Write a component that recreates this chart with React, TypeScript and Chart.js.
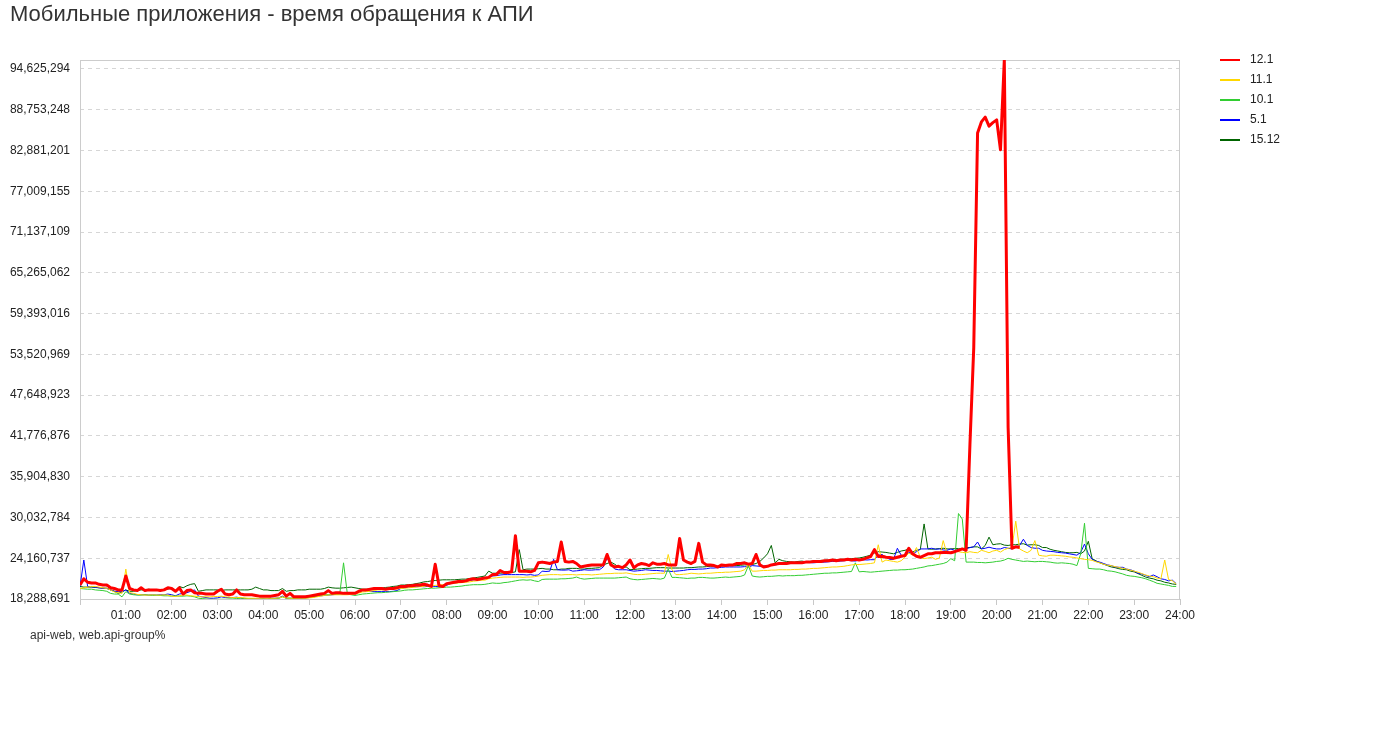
import React, { useEffect, useRef } from 'react';
import { Chart, registerables } from 'chart.js';

Chart.register(...registerables);

const TITLE = 'Мобильные приложения - время обращения к АПИ';
const SUBTITLE = 'api-web, web.api-group%';
const FONT = "'Liberation Sans', Arial, sans-serif";

// sampling step of the series, minutes (series start at 00:00)
const STEP_MIN = 5;

const X_TICK_LABELS = ['', '01:00', '02:00', '03:00', '04:00', '05:00', '06:00', '07:00', '08:00', '09:00', '10:00', '11:00', '12:00',
  '13:00', '14:00', '15:00', '16:00', '17:00', '18:00', '19:00', '20:00', '21:00', '22:00', '23:00', '24:00'];

const Y_TICKS = [18288691, 24160737, 30032784, 35904830, 41776876, 47648923, 53520969, 59393016,
  65265062, 71137109, 77009155, 82881201, 88753248, 94625294];
const Y_MIN = 18288691;
const Y_MAX = 95920000;

// values in millions
const S_12_1 = [
  20.3, 21.2, 20.7, 20.6, 20.6, 20.4, 20.3, 20.3, 19.9, 19.8, 19.6, 19.6,
  21.6, 19.8, 19.6, 19.5, 19.9, 19.5, 19.6, 19.6, 19.6, 19.5, 19.6, 19.9,
  19.8, 19.4, 19.9, 19.0, 19.5, 19.6, 19.2, 19.1, 19.1, 19.0, 19.0, 19.0,
  19.4, 19.7, 19.0, 18.9, 19.0, 19.6, 19.0, 18.9, 18.9, 18.9, 18.8, 18.7,
  18.7, 18.7, 18.7, 18.8, 18.9, 19.4, 18.7, 19.1, 18.6, 18.6, 18.6, 18.6,
  18.7, 18.8, 18.9, 19.0, 19.1, 19.5, 19.1, 19.2, 19.2, 19.1, 19.1, 19.1,
  19.1, 19.4, 19.6, 19.6, 19.7, 19.8, 19.8, 19.8, 19.7, 19.8, 19.8, 19.9,
  20.1, 20.1, 20.2, 20.2, 20.3, 20.3, 20.4, 20.3, 20.1, 23.3, 20.2, 20.1,
  20.5, 20.6, 20.7, 20.8, 20.8, 20.9, 21.1, 21.2, 21.1, 21.2, 21.3, 21.4,
  21.8, 21.8, 22.4, 22.1, 22.1, 22.2, 27.4, 22.3, 22.3, 22.3, 22.2, 22.4,
  23.5, 23.6, 23.5, 23.4, 23.6, 23.7, 26.5, 23.7, 23.6, 23.7, 23.4, 22.9,
  23.0, 23.1, 23.2, 23.2, 23.2, 23.2, 24.7, 23.2, 22.9, 23.0, 22.8, 23.2,
  23.9, 22.8, 23.2, 23.4, 23.3, 23.1, 23.5, 23.3, 23.3, 23.4, 23.2, 23.2,
  23.2, 27.0, 23.9, 23.6, 23.4, 23.7, 26.3, 23.6, 23.2, 23.2, 23.1, 22.9,
  23.2, 23.1, 23.2, 23.2, 23.4, 23.4, 23.5, 23.3, 23.4, 24.7, 23.2, 22.9,
  23.0, 23.2, 23.3, 23.4, 23.4, 23.4, 23.5, 23.5, 23.5, 23.5, 23.6, 23.6,
  23.7, 23.7, 23.7, 23.8, 23.8, 23.9, 23.8, 23.9, 23.9, 24.0, 23.9, 24.0,
  23.9, 24.0, 24.2, 24.4, 25.4, 24.4, 24.45, 24.3, 24.26, 24.16, 24.3, 24.45,
  24.55, 25.6, 24.8, 24.45, 24.3, 24.55, 24.8, 24.8, 24.95, 24.95, 25.0, 25.0,
  24.95, 25.1, 25.3, 25.5, 25.3, 40.5, 54.5, 85.4, 87.0, 87.7, 86.4, 86.9,
  87.3, 83.0, 95.92, 43.0, 25.6, 25.8, 25.7,
];

const S_11_1 = [
  19.8, 19.9, 20.0, 20.1, 20.1, 20.0, 19.9, 19.8, 19.6, 19.3, 19.2, 19.1,
  22.6, 19.2, 19.1, 18.95, 18.9, 18.85, 18.85, 18.9, 18.85, 18.85, 18.9, 18.85,
  18.7, 18.65, 18.75, 18.9, 18.85, 18.75, 18.7, 18.65, 18.6, 18.6, 18.6, 18.65,
  18.65, 18.7, 18.6, 18.55, 18.5, 18.5, 18.5, 18.45, 18.4, 18.4, 18.4, 18.4,
  18.4, 18.4, 18.4, 18.4, 18.45, 18.6, 18.45, 18.4, 18.4, 18.4, 18.4, 18.4,
  18.45, 18.5, 18.6, 18.7, 18.8, 18.85, 18.9, 18.9, 18.9, 18.9, 18.9, 18.95,
  19.05, 19.15, 19.3, 19.35, 19.4, 19.5, 19.6, 19.6, 19.65, 19.7, 19.7, 19.75,
  19.8, 19.85, 19.9, 19.95, 20.0, 20.05, 20.1, 20.2, 20.2, 20.25, 20.3, 20.35,
  20.4, 20.5, 20.55, 20.6, 20.65, 20.7, 20.75, 20.85, 20.9, 21.0, 21.0, 21.2,
  21.3, 21.35, 21.4, 21.45, 21.45, 21.45, 21.45, 21.45, 21.4, 21.45, 21.45, 21.5,
  21.6, 21.7, 21.75, 21.8, 21.8, 21.8, 21.75, 21.8, 21.8, 21.8, 21.75, 21.8,
  21.8, 21.8, 21.75, 21.8, 21.85, 21.9, 21.95, 21.95, 22.0, 22.0, 22.0, 22.05,
  21.95, 21.85, 21.8, 21.8, 21.85, 21.9, 21.95, 22.0, 22.0, 22.0, 24.7, 22.5,
  21.8, 21.8, 21.85, 21.9, 22.0, 21.95, 21.9, 21.95, 22.0, 22.0, 22.05, 22.1,
  22.1, 22.15, 22.15, 22.2, 22.25, 22.3, 22.5, 23.25, 22.3, 22.3, 22.35, 22.4,
  22.4, 22.45, 22.45, 22.5, 22.5, 22.5, 22.5, 22.55, 22.55, 22.6, 22.6, 22.65,
  22.7, 22.7, 22.75, 22.8, 22.85, 22.9, 22.9, 22.95, 23.0, 23.1, 23.2, 23.25,
  23.25, 23.3, 23.35, 23.4, 23.5, 26.1, 23.6, 23.9, 23.8, 23.7, 23.6, 23.8,
  24.3, 24.9, 24.6, 25.7, 24.3, 24.1, 24.2, 24.3, 24.0, 24.2, 26.7, 24.8,
  25.0, 25.2, 25.1, 25.0, 24.95, 25.1, 25.0, 24.95, 25.3, 25.15, 24.95, 25.2,
  25.3, 25.05, 25.4, 25.6, 25.7, 29.5, 25.5, 25.2, 24.95, 25.3, 26.7, 24.6,
  24.5, 24.45, 24.6, 24.6, 24.55, 24.5, 24.45, 24.35, 24.3, 24.2, 24.1, 24.0,
  23.95, 23.85, 23.65, 23.5, 23.3, 23.15, 23.1, 22.95, 22.85, 22.7, 22.6, 22.45,
  22.3, 22.15, 21.95, 21.75, 21.6, 21.5, 21.3, 21.2, 23.9, 21.1, 20.9, 20.45,
];

const S_10_1 = [
  19.8, 19.75, 19.7, 19.7, 19.6, 19.55, 19.5, 19.4, 19.1, 19.0, 19.0, 18.6,
  19.35, 19.0, 18.9, 18.85, 18.85, 18.9, 18.85, 18.8, 18.85, 18.8, 18.75, 18.75,
  18.7, 18.75, 18.7, 18.7, 18.75, 18.7, 18.6, 18.4, 18.35, 18.3, 18.25, 18.25,
  18.25, 18.25, 18.25, 18.3, 18.3, 18.35, 18.4, 18.4, 18.3, 18.3, 18.25, 18.25,
  18.25, 18.25, 18.3, 18.3, 18.35, 18.6, 18.4, 18.4, 18.4, 18.4, 18.45, 18.45,
  18.5, 18.6, 18.7, 18.85, 18.9, 18.9, 18.95, 18.95, 19.0, 23.5, 19.0, 18.9,
  18.8, 18.9, 19.0, 19.05, 19.1, 19.15, 19.2, 19.2, 19.25, 19.3, 19.35, 19.4,
  19.45, 19.55, 19.6, 19.6, 19.65, 19.7, 19.75, 19.8, 19.85, 19.85, 19.9, 19.95,
  20.0, 20.0, 20.05, 20.1, 20.15, 20.25, 20.3, 20.35, 20.35, 20.35, 20.4, 20.5,
  20.6, 20.55, 20.55, 20.65, 20.7, 20.8, 20.9, 21.0, 21.05, 21.0, 21.05, 20.9,
  20.8, 21.1, 21.15, 21.15, 21.15, 21.15, 21.2, 21.2, 21.25, 21.3, 21.45, 21.25,
  21.15, 21.2, 21.25, 21.3, 21.3, 21.3, 21.3, 21.3, 21.3, 21.35, 21.4, 21.45,
  21.2, 21.1, 21.05, 21.1, 21.15, 21.2, 21.25, 21.2, 21.15, 21.3, 22.6, 21.4,
  21.4, 21.35, 21.3, 21.25, 21.3, 21.3, 21.4, 21.4, 21.35, 21.3, 21.3, 21.35,
  21.4, 21.45, 21.4, 21.45, 21.5, 21.55, 21.75, 23.1, 21.6, 21.5, 21.45, 21.5,
  21.55, 21.55, 21.6, 21.65, 21.6, 21.65, 21.65, 21.65, 21.7, 21.7, 21.75, 21.8,
  21.85, 21.9, 21.95, 22.0, 22.0, 22.05, 22.05, 22.1, 22.15, 22.2, 22.25, 23.5,
  22.2, 22.25, 22.2, 22.15, 22.2, 22.25, 22.3, 22.35, 22.4, 22.45, 22.45, 22.5,
  22.5, 22.55, 22.6, 22.7, 22.8, 22.9, 23.05, 23.1, 23.2, 23.3, 23.4, 23.6,
  24.1, 23.8, 30.6, 29.8, 23.6, 23.6, 23.6, 23.55, 23.55, 23.5, 23.55, 23.6,
  23.7, 23.75, 23.9, 24.15, 24.0, 23.9, 23.8, 23.7, 23.75, 23.7, 23.65, 23.7,
  23.7, 23.65, 23.6, 23.5, 23.45, 23.5, 23.45, 23.4, 23.3, 23.1, 24.8, 29.2,
  22.7, 22.65, 22.6, 22.6, 22.5, 22.35, 22.3, 22.2, 22.05, 21.9, 21.7, 21.6,
  21.55, 21.45, 21.35, 21.2, 21.0, 20.8, 20.55, 20.45, 20.35, 20.25, 20.1, 20.1,
];

const S_5_1 = [
  20.1, 23.9, 20.1, 20.05, 20.0, 19.9, 19.85, 19.8, 19.6, 19.4, 19.35, 19.35,
  19.6, 19.1, 19.0, 18.9, 18.9, 18.9, 18.85, 18.9, 18.85, 18.9, 18.9, 19.0,
  18.9, 18.75, 19.0, 19.1, 19.2, 19.4, 19.6, 18.7, 18.6, 18.5, 18.4, 18.4,
  18.45, 18.6, 18.5, 18.5, 18.5, 18.55, 18.45, 18.3, 18.3, 18.3, 18.3, 18.3,
  18.35, 18.3, 18.4, 18.4, 18.45, 18.7, 18.4, 18.4, 18.4, 18.4, 18.4, 18.45,
  18.5, 18.55, 18.7, 18.75, 18.8, 18.85, 18.9, 18.95, 19.0, 19.05, 19.1, 19.1,
  19.2, 19.35, 19.55, 19.5, 19.4, 19.35, 19.35, 19.35, 19.35, 19.35, 19.4, 19.5,
  19.8, 19.9, 20.0, 20.05, 20.05, 20.1, 20.05, 20.1, 20.15, 20.1, 20.05, 20.15,
  20.25, 20.5, 20.6, 20.65, 20.75, 20.85, 20.95, 21.05, 21.1, 21.25, 21.3, 21.45,
  21.6, 21.65, 21.75, 21.8, 21.8, 21.8, 21.8, 21.8, 21.8, 21.75, 21.8, 21.7,
  21.75, 22.3, 22.25, 22.3, 24.0, 22.5, 22.45, 22.45, 22.5, 22.3, 22.35, 22.4,
  22.5, 22.45, 22.45, 22.5, 22.5, 22.9, 24.2, 23.2, 22.6, 22.5, 22.5, 22.5,
  22.4, 22.3, 22.35, 22.4, 22.5, 22.45, 22.4, 22.4, 22.35, 22.3, 22.3, 22.25,
  22.3, 22.35, 22.4, 22.5, 22.55, 22.55, 22.6, 22.6, 22.65, 22.75, 22.75, 22.8,
  22.85, 22.9, 22.9, 22.9, 22.9, 22.9, 22.95, 22.9, 23.1, 23.05, 23.0, 23.05,
  23.1, 23.15, 23.2, 23.3, 23.35, 23.45, 23.45, 23.4, 23.45, 23.5, 23.55, 23.55,
  23.5, 23.55, 23.6, 23.6, 23.65, 23.7, 23.7, 23.75, 23.8, 23.85, 23.8, 23.75,
  23.9, 23.95, 23.9, 23.95, 23.95, 24.6, 24.7, 24.3, 24.0, 24.0, 25.6, 24.6,
  24.45, 25.0, 24.8, 25.1, 25.5, 25.5, 25.5, 25.6, 25.45, 25.5, 25.35, 25.3,
  25.5, 25.3, 25.4, 25.5, 25.5, 25.7, 25.8, 26.5, 25.5, 25.6, 25.75, 25.6,
  25.5, 25.5, 25.7, 25.6, 25.5, 25.8, 26.0, 26.9, 26.0, 25.7, 25.6, 25.6,
  25.3, 25.2, 25.15, 25.1, 25.0, 24.95, 24.9, 24.8, 24.7, 24.6, 25.0, 26.2,
  24.8, 24.0, 23.7, 23.6, 23.4, 23.2, 23.1, 22.9, 22.85, 22.85, 22.6, 22.5,
  22.3, 22.0, 21.9, 21.7, 21.5, 21.75, 21.5, 21.2, 21.1, 20.9, 21.0, 20.5,
];

const S_15_12 = [
  20.1, 20.0, 20.0, 20.0, 19.95, 19.9, 19.85, 19.85, 19.6, 19.4, 19.1, 19.3,
  19.6, 19.4, 19.4, 19.5, 19.6, 19.6, 19.7, 19.6, 19.6, 19.6, 19.6, 19.7,
  19.9, 19.5, 20.1, 19.9, 20.2, 20.4, 20.5, 19.4, 19.5, 19.6, 19.6, 19.6,
  19.6, 19.5, 19.6, 19.6, 19.6, 19.6, 19.6, 19.6, 19.6, 19.7, 20.0, 19.8,
  19.6, 19.6, 19.5, 19.5, 19.5, 19.8, 19.4, 19.5, 19.5, 19.6, 19.6, 19.6,
  19.7, 19.7, 19.7, 19.7, 19.8, 20.0, 19.9, 19.85, 19.85, 19.9, 19.95, 20.0,
  19.9, 19.8, 19.7, 19.7, 19.7, 19.75, 19.8, 19.85, 19.95, 20.0, 20.1, 20.15,
  20.3, 20.3, 20.35, 20.4, 20.5, 20.6, 20.75, 20.8, 20.9, 20.95, 21.0, 21.05,
  21.05, 21.05, 21.05, 21.1, 21.15, 21.15, 21.25, 21.3, 21.4, 21.5, 21.6, 22.3,
  22.0, 22.0, 22.0, 22.05, 22.1, 22.1, 22.2, 25.4, 22.5, 22.6, 22.6, 22.6,
  22.65, 22.7, 22.6, 22.6, 22.5, 22.5, 22.6, 22.6, 22.7, 22.7, 22.7, 22.6,
  22.6, 22.7, 22.7, 22.75, 22.8, 23.2, 23.4, 23.6, 23.3, 22.9, 22.8, 22.9,
  22.5, 22.55, 22.6, 22.65, 22.7, 22.7, 22.75, 22.8, 22.8, 22.8, 22.75, 22.75,
  22.75, 22.75, 22.75, 22.8, 22.8, 22.85, 22.9, 22.9, 22.95, 23.0, 23.0, 23.0,
  23.05, 23.1, 23.1, 23.1, 23.1, 23.15, 23.2, 23.2, 23.25, 23.4, 23.7, 24.2,
  24.8, 26.0, 23.5, 24.0, 23.8, 23.7, 23.65, 23.6, 23.7, 23.75, 23.65, 23.7,
  23.75, 23.8, 23.85, 23.85, 23.9, 23.95, 23.95, 24.0, 24.0, 24.05, 24.1, 24.15,
  24.2, 24.3, 24.45, 24.6, 24.9, 25.1, 25.05, 25.0, 24.9, 24.8, 25.0, 25.2,
  25.3, 25.5, 25.05, 25.3, 25.4, 29.1, 25.5, 25.45, 25.5, 25.55, 25.6, 25.5,
  25.5, 25.55, 25.55, 25.5, 25.7, 25.7, 25.8, 25.8, 25.5, 26.0, 27.2, 26.1,
  26.2, 26.25, 26.05, 26.0, 26.1, 26.1, 26.2, 26.25, 26.05, 26.1, 26.1, 26.0,
  25.7, 25.7, 25.45, 25.3, 25.2, 25.1, 25.0, 24.95, 24.95, 25.0, 24.8, 25.2,
  26.6, 24.1, 23.8, 23.5, 23.3, 23.1, 22.9, 22.8, 22.65, 22.55, 22.5, 22.3,
  22.2, 21.95, 21.7, 21.45, 21.3, 21.2, 21.0, 20.9, 20.7, 20.6, 20.45, 20.4,
];

const SERIES_LABELS = ['12.1', '11.1', '10.1', '5.1', '15.12'];
const SERIES_VALUES = [S_12_1, S_11_1, S_10_1, S_5_1, S_15_12];
const SERIES_COLORS = ['#ff0000', '#ffd700', '#32cd32', '#0000ff', '#006400'];
const SERIES_WIDTHS = [3, 1, 1, 1, 1];

const toPoints = (vals: number[]) => vals.map((v, i) => ({ x: i * STEP_MIN, y: v * 1e6 }));

const decor = {
  id: 'decor',
  beforeDatasetsDraw(chart: any) {
    const { ctx, chartArea: a } = chart;
    ctx.save();
    ctx.strokeStyle = '#cccccc';
    ctx.lineWidth = 1;
    ctx.strokeRect(Math.round(a.left) + 0.5, Math.round(a.top) + 0.5, Math.round(a.right - a.left) - 1, Math.round(a.bottom - a.top));
    ctx.restore();
  },
  afterDraw(chart: any) {
    const { ctx } = chart;
    ctx.save();
    ctx.fillStyle = '#333333';
    ctx.font = `22px ${FONT}`;
    ctx.textBaseline = 'alphabetic';
    ctx.textAlign = 'left';
    ctx.fillText(TITLE, 10, 21);
    ctx.font = `12px ${FONT}`;
    ctx.textBaseline = 'middle';
    ctx.fillText(SUBTITLE, 30, 636);
    chart.data.datasets.forEach((ds: any, i: number) => {
      const y = 60 + i * 20;
      ctx.strokeStyle = ds.borderColor;
      ctx.lineWidth = 2;
      ctx.beginPath();
      ctx.moveTo(1220, y);
      ctx.lineTo(1240, y);
      ctx.stroke();
      ctx.fillStyle = '#222222';
      ctx.fillText(ds.label, 1250, y);
    });
    ctx.restore();
  },
};

export default function App() {
  const ref = useRef<HTMLCanvasElement>(null);
  useEffect(() => {
    const datasets = SERIES_VALUES.map((vals, i) => ({
      label: SERIES_LABELS[i],
      data: toPoints(vals),
      borderColor: SERIES_COLORS[i],
      backgroundColor: SERIES_COLORS[i],
      borderWidth: SERIES_WIDTHS[i],
      pointRadius: 0,
      tension: 0,
      fill: false,
      borderJoinStyle: 'round' as const,
    }));
    const chart = new Chart(ref.current as HTMLCanvasElement, {
      type: 'line',
      data: { datasets },
      options: {
        responsive: false,
        animation: false,
        devicePixelRatio: 1,
        layout: { padding: { top: 60, right: 212, bottom: 100, left: 0 } },
        plugins: { legend: { display: false }, title: { display: false }, tooltip: { enabled: false } },
        scales: {
          x: {
            type: 'linear',
            min: 0,
            max: 1440,
            afterBuildTicks: (s: any) => { s.ticks = X_TICK_LABELS.map((_, i) => ({ value: i * 60 })); },
            afterFit: (s: any) => { s.height = 40; },
            grid: { drawOnChartArea: false, drawTicks: true, tickLength: 6, color: '#c8c8c8' },
            border: { display: false },
            ticks: {
              autoSkip: false, maxRotation: 0, minRotation: 0, padding: 3, color: '#222222',
              font: { family: FONT, size: 12 },
              callback: (_v: any, i: number) => X_TICK_LABELS[i],
            },
          },
          y: {
            type: 'linear',
            min: Y_MIN,
            max: Y_MAX,
            afterBuildTicks: (s: any) => { s.ticks = Y_TICKS.map((v) => ({ value: v })); },
            afterFit: (s: any) => { s.width = 80; },
            grid: { drawTicks: false, color: '#d6d6d6' },
            border: { display: false, dash: [4, 4] },
            ticks: {
              padding: 10, color: '#222222',
              font: { family: FONT, size: 12 },
              callback: (v: any) => Number(v).toLocaleString('en-US'),
            },
          },
        },
      } as any,
      plugins: [decor],
    });
    return () => chart.destroy();
  }, []);
  return (
    <div style={{ position: 'absolute', left: 0, top: 0, width: 1392, height: 739, background: '#ffffff' }}>
      <canvas ref={ref} width={1392} height={739} style={{ display: 'block', width: 1392, height: 739 }} />
    </div>
  );
}
